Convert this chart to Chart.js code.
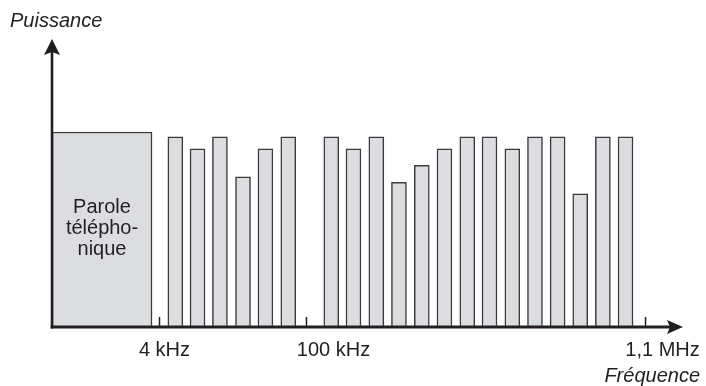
<!DOCTYPE html>
<html>
<head>
<meta charset="utf-8">
<script src="https://cdn.jsdelivr.net/npm/chart.js@4"></script>
<style>
  html, body { margin: 0; padding: 0; background: #fff; }
  canvas { display: block; }
</style>
</head>
<body>
<canvas id="spectre" width="706" height="386"></canvas>
<script>
// Schematic ADSL spectrum: one voice band, then narrow channels
const voiceBand = { x: 2.21, y: 6.77 };
const channelPos = [5.45, 6.43, 7.42, 8.44, 9.43, 10.44,
    12.34, 13.32, 14.33, 15.33, 16.34, 17.34, 18.35, 19.33, 20.34, 21.34, 22.34, 23.34, 24.34, 25.34];
const channelPower = [6.6, 6.19, 6.6, 5.21, 6.19, 6.6,
    6.6, 6.19, 6.6, 5.02, 5.61, 6.19, 6.6, 6.6, 6.19, 6.6, 6.6, 4.62, 6.6, 6.6];
const tickPos = [4.74, 11.22, 26.19];
const tickLabels = ['4 kHz', '100 kHz', '1,1 MHz'];
const voiceLabel = ['Parole', 'télépho-', 'nique'];

const FONT = '"Liberation Sans", Arial, Helvetica, sans-serif';
const INK = '#231f20';
const FILL = '#dcdde0';
const EDGE = '#3b3b3b';

// tick labels are set slightly right of their tick in the original
const labelShift = [5, 27, 17];

const axesPlugin = {
    id: 'axes',
    afterDatasetsDraw(chart) {
        const { ctx, chartArea: a, scales: { x, y } } = chart;
        const x0 = x.getPixelForValue(0);
        const y0 = y.getPixelForValue(0);
        ctx.save();
        ctx.strokeStyle = INK;
        ctx.fillStyle = INK;

        // y axis + arrow
        ctx.lineWidth = 2.6;
        ctx.beginPath();
        ctx.moveTo(x0, y0 + 1.5);
        ctx.lineTo(x0, a.top + 12);
        ctx.stroke();
        ctx.beginPath();
        ctx.moveTo(x0, a.top);
        ctx.lineTo(x0 + 8, a.top + 16);
        ctx.lineTo(x0, a.top + 13);
        ctx.lineTo(x0 - 8, a.top + 16);
        ctx.closePath();
        ctx.fill();

        // x axis + arrow
        ctx.lineWidth = 3;
        ctx.beginPath();
        ctx.moveTo(x0 - 1.3, y0);
        ctx.lineTo(a.right - 12, y0);
        ctx.stroke();
        ctx.beginPath();
        ctx.moveTo(a.right, y0);
        ctx.lineTo(a.right - 16, y0 - 7);
        ctx.lineTo(a.right - 13, y0);
        ctx.lineTo(a.right - 16, y0 + 7);
        ctx.closePath();
        ctx.fill();

        // frequency ticks
        ctx.lineWidth = 1.5;
        ctx.font = '20px ' + FONT;
        ctx.textAlign = 'center';
        ctx.textBaseline = 'alphabetic';
        tickPos.forEach((v, i) => {
            const px = Math.round(x.getPixelForValue(v)) + 0.5;
            ctx.beginPath();
            ctx.moveTo(px, y0 - 10);
            ctx.lineTo(px, y0);
            ctx.stroke();
            ctx.fillText(tickLabels[i], px + labelShift[i], 356);
        });

        // axis titles
        ctx.font = 'italic 20px ' + FONT;
        ctx.textAlign = 'left';
        ctx.fillText('Puissance', 10, 27);
        ctx.textAlign = 'right';
        ctx.fillText('Fréquence', 700, 382);

        // voice band label
        ctx.font = '20px ' + FONT;
        ctx.textAlign = 'center';
        const cx = x.getPixelForValue(voiceBand.x);
        voiceLabel.forEach((t, i) => ctx.fillText(t, cx, 213 + i * 21));
        ctx.restore();
    }
};

new Chart(document.getElementById('spectre'), {
    type: 'bar',
    data: {
        datasets: [{
            label: 'Parole téléphonique',
            data: [voiceBand],
            backgroundColor: FILL,
            borderColor: EDGE,
            borderWidth: 1.5,
            barThickness: 100,
            grouped: false
        }, {
            label: 'Canaux',
            data: channelPos.map((p, i) => ({ x: p, y: channelPower[i] })),
            backgroundColor: FILL,
            borderColor: EDGE,
            borderWidth: 1.5,
            barThickness: 15,
            grouped: false
        }]
    },
    options: {
        responsive: false,
        animation: false,
        layout: { padding: { left: 52, right: 23, top: 39, bottom: 59 } },
        plugins: { legend: { display: false }, tooltip: { enabled: false } },
        scales: {
            x: { type: 'linear', min: 0, max: 27.88, offset: false, display: false },
            y: { type: 'linear', min: 0, max: 10, display: false }
        }
    },
    plugins: [axesPlugin]
});
</script>
</body>
</html>
